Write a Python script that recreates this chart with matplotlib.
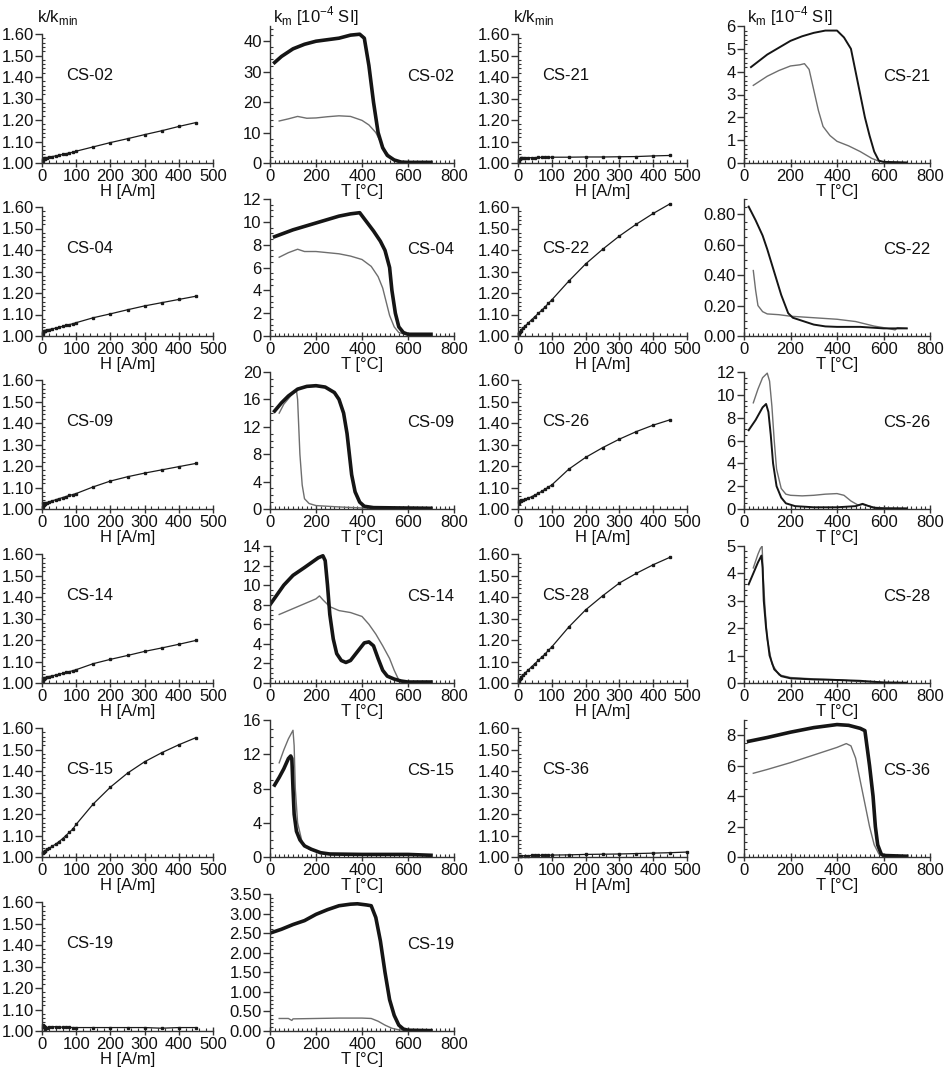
import matplotlib
matplotlib.use("Agg")
import matplotlib.pyplot as plt
from matplotlib.ticker import MultipleLocator, FormatStrFormatter

plt.rcParams['font.family'] = ['Liberation Sans', 'DejaVu Sans']
plt.rcParams['font.size'] = 12

# ---------------- k/kmin vs H data ----------------
H_pts = [2, 4, 6, 8, 10, 15, 20, 30, 40, 50, 60, 70, 80, 90, 100, 150, 200, 250, 300, 350, 400, 450]
k_cs02 = [1.01, 1.02, 1.025, 1.02, 1.025, 1.025, 1.027, 1.03, 1.033, 1.036, 1.04, 1.043, 1.047, 1.05, 1.055, 1.075, 1.095, 1.113, 1.132, 1.15, 1.17, 1.188]
k_cs04 = [1.01, 1.02, 1.025, 1.022, 1.025, 1.028, 1.03, 1.033, 1.037, 1.04, 1.045, 1.05, 1.053, 1.057, 1.062, 1.085, 1.103, 1.122, 1.14, 1.155, 1.17, 1.185]
k_cs09 = [1.01, 1.03, 1.02, 1.025, 1.03, 1.03, 1.033, 1.038, 1.043, 1.048, 1.053, 1.058, 1.063, 1.067, 1.072, 1.103, 1.13, 1.15, 1.167, 1.182, 1.197, 1.212]
k_cs14 = [1.01, 1.025, 1.02, 1.025, 1.025, 1.028, 1.03, 1.033, 1.037, 1.04, 1.045, 1.049, 1.053, 1.057, 1.062, 1.09, 1.11, 1.128, 1.147, 1.163, 1.18, 1.198]
k_cs15 = [1.02, 1.025, 1.025, 1.027, 1.03, 1.035, 1.04, 1.05, 1.06, 1.072, 1.085, 1.1, 1.115, 1.13, 1.152, 1.247, 1.325, 1.39, 1.443, 1.485, 1.522, 1.555]
k_cs19 = [1.03, 1.02, 1.025, 1.01, 1.02, 1.015, 1.02, 1.02, 1.02, 1.018, 1.018, 1.017, 1.017, 1.016, 1.016, 1.016, 1.016, 1.016, 1.016, 1.013, 1.016, 1.016]
k_cs21 = [1.005, 1.015, 1.02, 1.025, 1.022, 1.023, 1.023, 1.024, 1.025, 1.025, 1.026, 1.026, 1.027, 1.027, 1.027, 1.027, 1.028, 1.028, 1.029, 1.03, 1.033, 1.035]
k_cs22 = [1.01, 1.015, 1.02, 1.025, 1.03, 1.037, 1.045, 1.06, 1.075, 1.09, 1.105, 1.12, 1.135, 1.152, 1.168, 1.255, 1.335, 1.403, 1.465, 1.52, 1.57, 1.615]
k_cs26 = [1.03, 1.035, 1.035, 1.038, 1.04, 1.042, 1.045, 1.05, 1.057, 1.065, 1.073, 1.082, 1.092, 1.102, 1.112, 1.185, 1.24, 1.285, 1.325, 1.36, 1.39, 1.415]
k_cs28 = [1.005, 1.015, 1.02, 1.025, 1.03, 1.037, 1.045, 1.06, 1.075, 1.09, 1.105, 1.12, 1.135, 1.152, 1.168, 1.26, 1.34, 1.405, 1.465, 1.51, 1.55, 1.585]
H_cs36 = [5, 10, 20, 30, 40, 50, 60, 70, 80, 90, 100, 150, 200, 250, 300, 350, 400, 450, 500]
k_cs36 = [1.005, 1.006, 1.006, 1.006, 1.007, 1.007, 1.007, 1.008, 1.008, 1.008, 1.009, 1.01, 1.012, 1.013, 1.014, 1.016, 1.018, 1.02, 1.023]

# ---------------- km vs T data (a = bold curve, b = thin curve) ----------------
Ta_cs02 = [20, 50, 100, 150, 200, 250, 300, 350, 390, 410, 430, 450, 470, 490, 510, 540, 570, 600, 700]
ka_cs02 = [33, 35, 37.5, 39, 40, 40.5, 41, 42, 42.3, 41, 32, 20, 10, 5, 2.5, 1, 0.3, 0.2, 0.2]
Tb_cs02 = [40, 80, 120, 160, 200, 250, 300, 350, 400, 430, 460, 480, 500, 530, 560, 600, 700]
kb_cs02 = [13.8, 14.5, 15.3, 14.7, 14.8, 15.2, 15.5, 15.3, 14, 12.5, 10, 7, 4, 1.5, 0.4, 0.2, 0.2]

Ta_cs04 = [20, 100, 150, 200, 250, 300, 350, 390, 420, 450, 480, 500, 520, 530, 545, 560, 580, 600, 700]
ka_cs04 = [8.7, 9.3, 9.6, 9.9, 10.2, 10.5, 10.7, 10.8, 10.0, 9.2, 8.3, 7.5, 6.0, 4.0, 2.0, 0.8, 0.3, 0.15, 0.15]
Tb_cs04 = [40, 80, 120, 150, 200, 250, 300, 350, 400, 440, 470, 490, 505, 520, 540, 560, 600, 700]
kb_cs04 = [6.9, 7.3, 7.6, 7.4, 7.4, 7.3, 7.2, 7.0, 6.7, 6.1, 5.2, 4.2, 3.0, 1.8, 0.8, 0.3, 0.1, 0.1]

Ta_cs09 = [20, 50, 80, 120, 160, 200, 240, 280, 300, 320, 335, 345, 355, 370, 390, 410, 450, 700]
ka_cs09 = [14.3, 15.5, 16.5, 17.5, 17.9, 18.0, 17.8, 17.0, 16.0, 14.0, 11.0, 8.0, 5.0, 2.5, 1.0, 0.4, 0.2, 0.1]
Tb_cs09 = [40, 60, 90, 115, 120, 125, 130, 140, 150, 170, 200, 300, 400, 600, 700]
kb_cs09 = [14.0, 15.3, 16.5, 17.3, 16.0, 12.0, 8.0, 3.5, 1.5, 0.8, 0.5, 0.3, 0.15, 0.1, 0.1]

Ta_cs14 = [0, 30, 60, 100, 150, 180, 210, 230, 240, 250, 260, 275, 290, 310, 330, 350, 380, 410, 430, 450, 470, 490, 510, 540, 570, 600, 700]
ka_cs14 = [8.0, 9.0, 10.0, 11.0, 11.8, 12.3, 12.8, 13.0, 12.5, 10.0, 7.0, 4.5, 3.0, 2.3, 2.1, 2.3, 3.2, 4.1, 4.2, 3.8, 2.5, 1.3, 0.7, 0.4, 0.2, 0.1, 0.1]
Tb_cs14 = [40, 100, 150, 200, 215, 230, 260, 300, 350, 400, 430, 460, 490, 520, 540, 560, 600]
kb_cs14 = [7.0, 7.6, 8.1, 8.6, 8.9, 8.5, 7.8, 7.4, 7.2, 6.8, 6.0, 5.0, 3.8, 2.5, 1.3, 0.3, 0.1]

Ta_cs15 = [20, 40, 60, 80, 90, 95, 100, 105, 115, 130, 150, 180, 220, 260, 400, 600, 700]
ka_cs15 = [8.4, 9.3, 10.3, 11.5, 11.8, 11.5, 8.0, 5.0, 3.0, 2.0, 1.3, 0.9, 0.5, 0.35, 0.3, 0.3, 0.2]
Tb_cs15 = [40, 60, 80, 100, 105, 110, 120, 140, 170, 220, 300, 600, 700]
kb_cs15 = [11.0, 12.5, 13.8, 14.8, 13.0, 8.0, 4.0, 1.7, 0.9, 0.5, 0.3, 0.25, 0.2]

Ta_cs19 = [0, 50, 100, 150, 200, 250, 300, 350, 380, 420, 440, 460, 480, 500, 520, 540, 560, 580, 600, 700]
ka_cs19 = [2.5, 2.6, 2.72, 2.82, 2.98, 3.1, 3.2, 3.24, 3.25, 3.22, 3.2, 2.9, 2.3, 1.5, 0.8, 0.4, 0.15, 0.05, 0.02, 0.01]
Tb_cs19 = [40, 80, 95, 100, 200, 300, 400, 440, 470, 500, 530, 560, 600, 700]
kb_cs19 = [0.32, 0.32, 0.27, 0.31, 0.32, 0.33, 0.33, 0.32, 0.25, 0.15, 0.07, 0.03, 0.02, 0.01]

Ta_cs21 = [30, 100, 150, 200, 250, 300, 350, 400, 430, 460, 480, 500, 520, 540, 560, 580, 600, 700]
ka_cs21 = [4.2, 4.75, 5.05, 5.35, 5.55, 5.7, 5.8, 5.8, 5.5, 5.0, 4.0, 3.0, 2.0, 1.2, 0.5, 0.1, 0.05, 0.02]
Tb_cs21 = [40, 100, 150, 200, 240, 260, 280, 300, 320, 340, 370, 400, 450, 500, 550, 580, 600, 700]
kb_cs21 = [3.4, 3.8, 4.05, 4.25, 4.3, 4.35, 4.1, 3.2, 2.3, 1.6, 1.2, 0.95, 0.75, 0.5, 0.2, 0.08, 0.05, 0.02]

Ta_cs22 = [20, 50, 80, 100, 130, 160, 190, 210, 250, 300, 350, 400, 500, 600, 700]
ka_cs22 = [0.85, 0.76, 0.66, 0.57, 0.42, 0.27, 0.15, 0.12, 0.10, 0.075, 0.063, 0.06, 0.06, 0.05, 0.05]
Tb_cs22 = [40, 50, 60, 80, 100, 150, 200, 300, 400, 480, 520, 560, 600, 650, 660, 700]
kb_cs22 = [0.43, 0.30, 0.20, 0.16, 0.145, 0.14, 0.13, 0.12, 0.11, 0.095, 0.08, 0.065, 0.055, 0.04, 0.055, 0.05]

Ta_cs26 = [20, 50, 80, 95, 105, 115, 125, 140, 160, 180, 220, 300, 400, 480, 510, 530, 560, 600, 700]
ka_cs26 = [6.9, 7.8, 8.9, 9.2, 8.5, 6.5, 4.0, 2.0, 1.0, 0.5, 0.25, 0.15, 0.15, 0.25, 0.45, 0.3, 0.1, 0.05, 0.05]
Tb_cs26 = [40, 60, 80, 100, 110, 120, 130, 140, 160, 180, 200, 250, 300, 350, 400, 430, 460, 490, 510, 530, 560, 600, 700]
kb_cs26 = [9.3, 10.5, 11.5, 11.9, 11.2, 9.0, 6.0, 3.5, 1.8, 1.3, 1.2, 1.15, 1.2, 1.3, 1.35, 1.2, 0.7, 0.35, 0.4, 0.3, 0.15, 0.1, 0.05]

Ta_cs28 = [20, 40, 60, 75, 80, 85, 95, 110, 130, 160, 200, 300, 400, 500, 600, 700]
ka_cs28 = [3.6, 4.0, 4.4, 4.65, 4.2, 3.0, 2.0, 1.0, 0.5, 0.25, 0.17, 0.13, 0.11, 0.08, 0.02, 0.01]
Tb_cs28 = [40, 60, 70, 78, 82, 90, 100, 120, 150, 200, 300, 400, 500, 600, 700]
kb_cs28 = [4.2, 4.7, 4.9, 5.0, 4.0, 2.8, 1.6, 0.7, 0.3, 0.2, 0.15, 0.12, 0.05, 0.02, 0.01]

Ta_cs36 = [20, 100, 200, 300, 400, 450, 500, 520, 540, 555, 565, 575, 590, 600, 700]
ka_cs36 = [7.6, 7.85, 8.2, 8.5, 8.7, 8.65, 8.45, 8.3, 6.0, 4.0, 2.0, 0.8, 0.2, 0.1, 0.05]
Tb_cs36 = [40, 100, 200, 300, 400, 440, 460, 480, 500, 520, 540, 560, 580, 600, 700]
kb_cs36 = [5.5, 5.75, 6.2, 6.7, 7.2, 7.45, 7.3, 6.5, 5.0, 3.5, 2.0, 0.8, 0.2, 0.05, 0.02]

# ---------------- layout ----------------
W, Hpx = 946, 1069
fig = plt.figure(figsize=(W / 100, Hpx / 100), dpi=100)
fig.patch.set_facecolor('white')

COL_K = [(42, 213), (518, 687)]
COL_T = [(270, 454), (744, 930)]
ROW_BOT = [163, 336, 509, 683, 857, 1031]
K_H = 129
T_H = 137
TXT = '#111111'
AXC = '#333333'


def make_ax(x0, x1, ybot, h):
    return fig.add_axes([x0 / W, 1 - ybot / Hpx, (x1 - x0) / W, h / Hpx])


def style(ax):
    for s in ['top', 'right']:
        ax.spines[s].set_visible(False)
    for s in ['left', 'bottom']:
        ax.spines[s].set_color(AXC)
        ax.spines[s].set_linewidth(1.0)
    ax.tick_params(axis='y', which='major', direction='out', length=5, width=1, pad=1,
                   colors=AXC, labelcolor=TXT, labelsize=12)
    ax.tick_params(axis='y', which='minor', direction='in', length=2.5, width=0.8, colors=AXC)
    ax.tick_params(axis='x', which='major', direction='inout', length=6, width=1, pad=1,
                   colors=AXC, labelcolor=TXT, labelsize=12)
    ax.tick_params(axis='x', which='minor', direction='in', length=2.5, width=0.8, colors=AXC)
    ax.set_facecolor('none')


def k_panel(col, row, name, H, k, xmax=500):
    x0, x1 = COL_K[col]
    ax = make_ax(x0, x1, ROW_BOT[row], K_H)
    ax.plot(H, k, color='#1a1a1a', lw=0.9, marker='s', ms=2.0, clip_on=False)
    ax.set_xlim(0, 500)
    ax.set_ylim(1.0, 1.6)
    ax.xaxis.set_major_locator(MultipleLocator(100))
    ax.xaxis.set_minor_locator(MultipleLocator(20))
    ax.yaxis.set_major_locator(MultipleLocator(0.1))
    ax.yaxis.set_minor_locator(MultipleLocator(0.02))
    ax.yaxis.set_major_formatter(FormatStrFormatter('%.2f'))
    style(ax)
    ax.set_xlabel('H [A/m]', fontsize=12, color=TXT, labelpad=0.5)
    ax.text(0.14, 0.68, name, transform=ax.transAxes, fontsize=12, color=TXT,
            ha='left', va='center')
    return ax


def t_panel(col, row, name, Ta, ka, Tb, kb, ymax, major, minor, fmt, lwa=2.6, ca='#151515'):
    x0, x1 = COL_T[col]
    ax = make_ax(x0, x1, ROW_BOT[row], T_H)
    ax.plot(Tb, kb, color='#6e6e6e', lw=1.0)
    ax.plot(Ta, ka, color=ca, lw=lwa)
    ax.set_xlim(0, 800)
    ax.set_ylim(0, ymax)
    ax.xaxis.set_major_locator(MultipleLocator(200))
    ax.xaxis.set_minor_locator(MultipleLocator(20))
    ax.yaxis.set_major_locator(MultipleLocator(major))
    ax.yaxis.set_minor_locator(MultipleLocator(minor))
    ax.yaxis.set_major_formatter(FormatStrFormatter(fmt))
    style(ax)
    ax.set_xlabel('T [°C]', fontsize=12, color=TXT, labelpad=0.5)
    ax.text(1.0, 0.63, name, transform=ax.transAxes, fontsize=12, color=TXT,
            ha='right', va='center')
    return ax


# column 1
k_panel(0, 0, 'CS-02', H_pts, k_cs02)
k_panel(0, 1, 'CS-04', H_pts, k_cs04)
k_panel(0, 2, 'CS-09', H_pts, k_cs09)
k_panel(0, 3, 'CS-14', H_pts, k_cs14)
k_panel(0, 4, 'CS-15', H_pts, k_cs15)
k_panel(0, 5, 'CS-19', H_pts, k_cs19)

# column 3
k_panel(1, 0, 'CS-21', H_pts, k_cs21)
k_panel(1, 1, 'CS-22', H_pts, k_cs22)
k_panel(1, 2, 'CS-26', H_pts, k_cs26)
k_panel(1, 3, 'CS-28', H_pts, k_cs28)
k_panel(1, 4, 'CS-36', H_cs36, k_cs36)

# column 2
t_panel(0, 0, 'CS-02', Ta_cs02, ka_cs02, Tb_cs02, kb_cs02, 45, 10, 2, '%d')
t_panel(0, 1, 'CS-04', Ta_cs04, ka_cs04, Tb_cs04, kb_cs04, 12, 2, 0.5, '%d')
t_panel(0, 2, 'CS-09', Ta_cs09, ka_cs09, Tb_cs09, kb_cs09, 20, 4, 1, '%d')
t_panel(0, 3, 'CS-14', Ta_cs14, ka_cs14, Tb_cs14, kb_cs14, 14, 2, 0.5, '%d')
t_panel(0, 4, 'CS-15', Ta_cs15, ka_cs15, Tb_cs15, kb_cs15, 16, 4, 1, '%d')
t_panel(0, 5, 'CS-19', Ta_cs19, ka_cs19, Tb_cs19, kb_cs19, 3.5, 0.5, 0.1, '%.2f')

# column 4
t_panel(1, 0, 'CS-21', Ta_cs21, ka_cs21, Tb_cs21, kb_cs21, 6, 1, 0.2, '%d', lwa=1.4)
t_panel(1, 1, 'CS-22', Ta_cs22, ka_cs22, Tb_cs22, kb_cs22, 0.9, 0.2, 0.05, '%.2f', lwa=1.4)
t_panel(1, 2, 'CS-26', Ta_cs26, ka_cs26, Tb_cs26, kb_cs26, 12, 2, 0.5, '%d', lwa=1.4)
t_panel(1, 3, 'CS-28', Ta_cs28, ka_cs28, Tb_cs28, kb_cs28, 5, 1, 0.2, '%d', lwa=1.4)
t_panel(1, 4, 'CS-36', Ta_cs36, ka_cs36, Tb_cs36, kb_cs36, 9, 2, 0.5, '%d', lwa=2.6)

# column header labels
fig.text(37 / W, 1 - 22 / Hpx, r'k/k$_{\mathregular{min}}$', fontsize=12, color=TXT, ha='left', va='baseline')
fig.text(513 / W, 1 - 22 / Hpx, r'k/k$_{\mathregular{min}}$', fontsize=12, color=TXT, ha='left', va='baseline')
fig.text(273 / W, 1 - 22 / Hpx, r'k$_{\mathregular{m}}$ [10$^{\mathregular{-4}}$ SI]', fontsize=12, color=TXT, ha='left', va='baseline')
fig.text(747 / W, 1 - 22 / Hpx, r'k$_{\mathregular{m}}$ [10$^{\mathregular{-4}}$ SI]', fontsize=12, color=TXT, ha='left', va='baseline')

fig.savefig('out.png', dpi=100, facecolor='white')
